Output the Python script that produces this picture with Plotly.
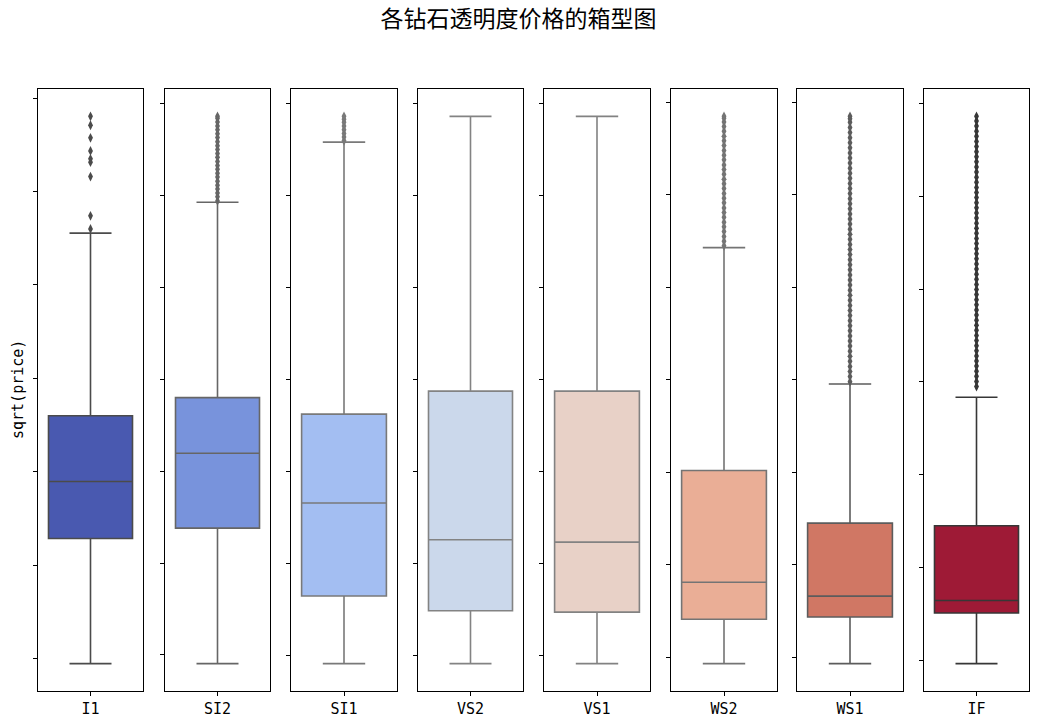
import plotly.graph_objects as go

clarity = ["I1", "SI2", "SI1", "VS2", "VS1", "WS2", "WS1", "IF"]
lower_whisker = [18.9, 18.1, 18.3, 18.3, 18.3, 18.6, 18.6, 19.3]
q1 = [45.7, 47.6, 33.0, 29.8, 29.5, 28.2, 28.7, 30.2]
median = [57.9, 63.9, 53.2, 45.2, 44.7, 36.2, 33.2, 32.9]
q3 = [72.0, 76.0, 72.5, 77.5, 77.5, 60.4, 49.0, 49.0]
upper_whisker = [111.1, 118.5, 131.6, 137.2, 137.2, 108.6, 79.1, 76.7]

outliers_I1 = [112.0, 114.8, 123.2, 126.3, 127.0, 128.7, 131.5, 134.2, 136.1]
outliers_SI2 = [118.8, 119.7, 120.5, 121.4, 122.2, 123.1, 124.0, 124.8, 125.7,
                126.5, 127.4, 128.3, 129.1, 130.0, 130.8, 131.7, 132.6, 133.4,
                134.3, 135.1, 136.0, 136.8, 137.2]
outliers_SI1 = [131.9, 132.7, 133.5, 134.3, 135.1, 135.9, 136.6, 137.2]
outliers_VS2 = []
outliers_VS1 = []
outliers_WS2 = [109.0, 110.0, 111.0, 112.1, 113.1, 114.1, 115.2, 116.2, 117.2,
                118.3, 119.3, 120.3, 121.4, 122.4, 123.4, 124.5, 125.5, 126.5,
                127.6, 128.6, 129.6, 130.7, 131.7, 132.7, 133.8, 134.8, 135.8,
                136.6, 137.0]
outliers_WS1 = [79.6, 80.7, 81.8, 82.9, 84.0, 85.1, 86.2, 87.3, 88.4, 89.5, 90.6,
                91.7, 92.8, 93.9, 95.0, 96.1, 97.2, 98.3, 99.4, 100.5, 101.6,
                102.7, 103.8, 104.9, 106.0, 107.1, 108.2, 109.3, 110.4, 111.5,
                112.6, 113.7, 114.8, 115.9, 117.0, 118.1, 119.2, 120.3, 121.4,
                122.5, 123.6, 124.7, 125.8, 126.9, 128.0, 129.1, 130.2, 131.3,
                132.4, 133.5, 134.6, 135.7, 136.5, 137.0]
outliers_IF = [79.0, 80.1, 81.2, 82.3, 83.4, 84.5, 85.6, 86.7, 87.8, 88.9, 90.0,
               91.1, 92.2, 93.3, 94.4, 95.5, 96.6, 97.7, 98.8, 99.9, 101.0,
               102.1, 103.2, 104.3, 105.4, 106.5, 107.6, 108.7, 109.8, 110.9,
               112.0, 113.1, 114.2, 115.3, 116.4, 117.5, 118.6, 119.7, 120.8,
               121.9, 123.0, 124.1, 125.2, 126.3, 127.4, 128.5, 129.6, 130.7,
               131.8, 132.9, 134.0, 135.1, 136.2, 137.2]
outliers = [outliers_I1, outliers_SI2, outliers_SI1, outliers_VS2,
            outliers_VS1, outliers_WS2, outliers_WS1, outliers_IF]

fill_colors = ["#4959B0", "#7893DC", "#A3BEF2", "#CBD8EB",
               "#E8D1C7", "#EAAE96", "#D07764", "#9E1A36"]
line_colors = ["#4B4B4B", "#666666", "#797979", "#838383",
               "#828282", "#747474", "#5C5C5C", "#373737"]
y_ticks = [20, 40, 60, 80, 100, 120, 140]

W, H = 1037, 727
left_px = [38, 165, 291, 418, 544, 671, 797, 924]
right_px = [143, 270, 397, 523, 650, 777, 903, 1029]
ml, mt = 38, 89
mr = 5
mb = H - 691
pw = W - ml - mr

FONT = "Noto Sans CJK SC"
MONO = "DejaVu Sans Mono"

fig = go.Figure()
layout = {}
for i, name in enumerate(clarity):
    n = "" if i == 0 else str(i + 1)
    xa, ya = "x" + n, "y" + n
    fig.add_trace(go.Box(
        x=[name], q1=[q1[i]], median=[median[i]], q3=[q3[i]],
        lowerfence=[lower_whisker[i]], upperfence=[upper_whisker[i]],
        width=0.8, whiskerwidth=0.5, boxpoints=False,
        fillcolor=fill_colors[i], line=dict(color=line_colors[i], width=1.6),
        xaxis=xa, yaxis=ya, showlegend=False))
    if outliers[i]:
        fig.add_trace(go.Scatter(
            x=[name] * len(outliers[i]), y=outliers[i], mode="markers",
            marker=dict(symbol="diamond-tall", size=7, color=line_colors[i],
                        line=dict(width=0)),
            xaxis=xa, yaxis=ya, showlegend=False))
    vals = [lower_whisker[i], upper_whisker[i]] + outliers[i]
    lo, hi = min(vals), max(vals)
    span = hi - lo
    x0 = (left_px[i] - ml) / pw
    x1 = (right_px[i] - ml) / pw
    layout["xaxis" + n] = dict(
        domain=[max(x0, 0), min(x1, 1)], anchor=ya, type="category",
        range=[-0.5, 0.5], ticks="outside", ticklen=4, tickcolor="black",
        showline=True, mirror=True, linecolor="black", linewidth=1,
        showgrid=False, zeroline=False,
        tickfont=dict(family=MONO, size=15, color="black"))
    layout["yaxis" + n] = dict(
        domain=[0, 1], anchor=xa, range=[lo - 0.05 * span, hi + 0.05 * span],
        tickvals=y_ticks, showticklabels=False, ticks="outside", ticklen=4,
        tickcolor="black", showline=True, mirror=True, linecolor="black",
        linewidth=1, showgrid=False, zeroline=False)

fig.update_layout(**layout)
fig.update_layout(
    width=W, height=H,
    margin=dict(l=ml, r=mr, t=mt, b=mb),
    plot_bgcolor="white", paper_bgcolor="white",
    font=dict(family=FONT, color="black"),
    title=dict(text="各钻石透明度价格的箱型图", x=0.5, xanchor="center",
               y=1 - 19 / H, yanchor="middle", yref="container",
               font=dict(family=FONT, size=23, color="black")),
    annotations=[dict(text="sqrt(price)", xref="paper", yref="paper",
                      x=(18 - ml) / pw, y=0.5, xanchor="center",
                      yanchor="middle", textangle=-90, showarrow=False,
                      font=dict(family=MONO, size=15, color="black"))],
)

fig.write_html("out.html",
               config={"displayModeBar": False},
               post_script="document.body.style.margin='0';"
                           "document.body.style.overflow='hidden';")
